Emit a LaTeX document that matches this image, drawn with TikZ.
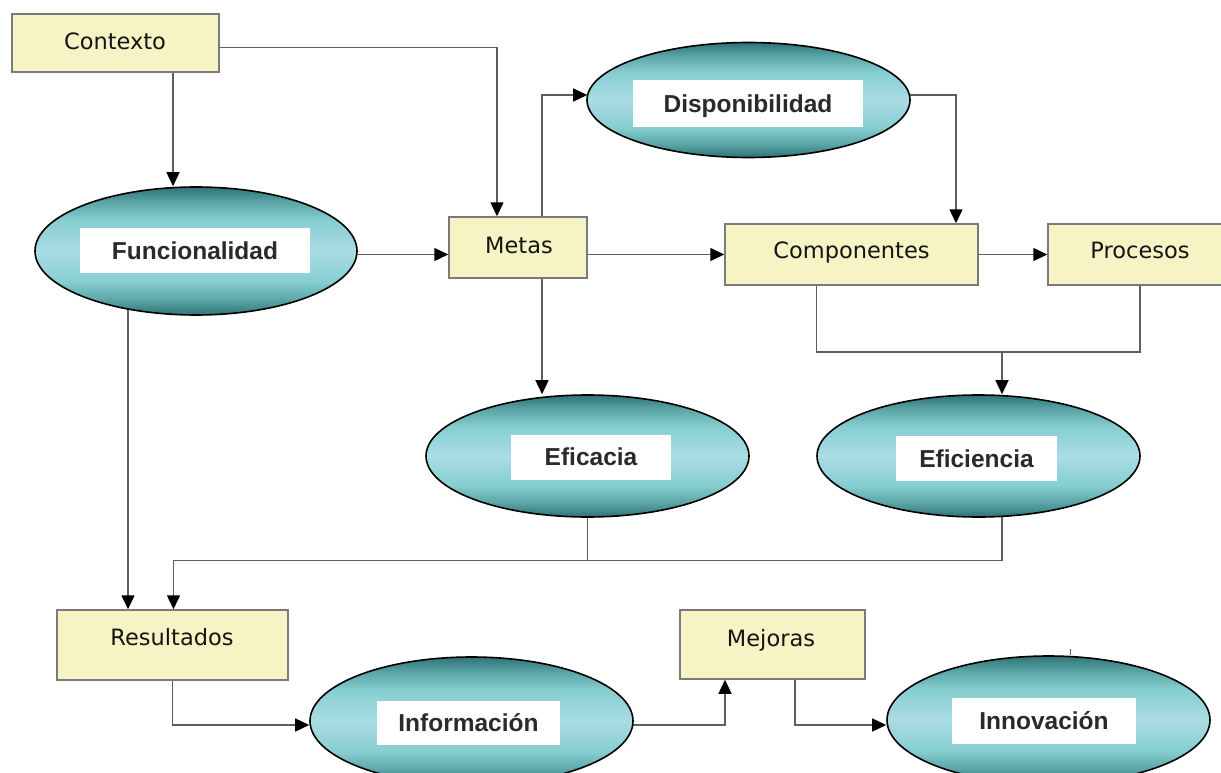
\documentclass[tikz,border=0pt]{standalone}
\usepackage{fontspec}
\setmainfont{DejaVu Sans}
\newfontfamily\ellfont{Liberation Sans}
\usetikzlibrary{arrows.meta,shapes.geometric,calc}
\pgfdeclarelayer{bg}
\pgfsetlayers{bg,main}
\definecolor{boxfill}{HTML}{F6F4C4}
\definecolor{boxline}{HTML}{7A7A7A}
\definecolor{linegray}{HTML}{5E5E5E}
\definecolor{txtdark}{HTML}{141414}
\definecolor{elltxt}{HTML}{2A2A2A}
\definecolor{tdark}{HTML}{2F7375}
\definecolor{tmid}{HTML}{5CA6A8}
\definecolor{tcyan}{HTML}{86CED0}
\definecolor{tlight}{HTML}{AADCE4}
\pgfdeclareverticalshading{ellshade}{100bp}{color(0bp)=(tdark); color(25bp)=(tdark); color(31bp)=(tmid); color(38bp)=(tcyan); color(50bp)=(tlight); color(62bp)=(tcyan); color(69bp)=(tmid); color(75bp)=(tdark); color(100bp)=(tdark)}
\tikzset{
  box/.style={draw=boxline, line width=1.5pt, fill=boxfill, inner sep=0pt},
  boxtext/.style={font=\fontsize{22.5}{26}\selectfont, text=txtdark, inner sep=0pt, text height=16pt, text depth=0pt},
  ell/.style={ellipse, draw=black, line width=1.6pt, shade, shading=ellshade, inner sep=0pt},
  elllabel/.style={fill=white, inner sep=0pt, font=\ellfont\bfseries\fontsize{24.5}{28}\selectfont, text=elltxt, text height=17.5pt, text depth=0pt},
  conn/.style={draw=linegray, line width=1.5pt},
  arr/.style={conn, -{Triangle[length=14pt,width=13pt,color=black]}}
}
\begin{document}
\begin{tikzpicture}[x=1pt,y=-1pt]
\useasboundingbox (0,0) rectangle (1221,773);
% boxes
\node[box, minimum width=207pt, minimum height=58pt] (ctx) at (115.5,43) {};
\node[boxtext] (ctxT) at (115,42) {Contexto};
\node[box, minimum width=138pt, minimum height=61pt] (metas) at (518,247.5) {};
\node[boxtext] (metasT) at (519,245) {Metas};
\node[box, minimum width=253pt, minimum height=61pt] (comp) at (851.5,254.5) {};
\node[boxtext] (compT) at (851.5,250) {Componentes};
\node[box, minimum width=178pt, minimum height=61pt] (proc) at (1137,254.5) {};
\node[boxtext] (procT) at (1140,250) {Procesos};
\node[box, minimum width=231pt, minimum height=70pt] (res) at (172.5,645) {};
\node[boxtext] (resT) at (172,637) {Resultados};
\node[box, minimum width=185pt, minimum height=69pt] (mej) at (772.5,644.5) {};
\node[boxtext] (mejT) at (771,638) {Mejoras};
% ellipses
\node[ell, minimum width=322pt, minimum height=128pt] (func) at (196,251) {};
\node[elllabel, minimum width=230pt, minimum height=45pt] (funcT) at (195,250.5) {Funcionalidad};
\node[ell, minimum width=323pt, minimum height=115pt] (disp) at (748.5,100) {};
\node[elllabel, minimum width=230pt, minimum height=47pt] (dispT) at (748,103.5) {Disponibilidad};
\node[ell, minimum width=323pt, minimum height=122pt] (efic) at (587.5,456) {};
\node[elllabel, minimum width=160pt, minimum height=45pt] (eficT) at (591,457) {Eficacia};
\node[ell, minimum width=323pt, minimum height=122pt] (effi) at (978.5,456) {};
\node[elllabel, minimum width=161pt, minimum height=45pt] (effiT) at (976.5,458.5) {Eficiencia};
\node[ell, minimum width=323pt, minimum height=128pt] (info) at (471.5,721) {};
\node[elllabel, minimum width=183pt, minimum height=44pt] (infoT) at (468.5,722.5) {Información};
\node[ell, minimum width=323pt, minimum height=128pt] (innov) at (1048.5,720) {};
\node[elllabel, minimum width=184pt, minimum height=46pt] (innovT) at (1044,721) {Innovación};
% helper coordinates
\coordinate (mS) at ($(metas.south)+(24,0)$);
\coordinate (cS) at ($(comp.south)+(-35,0)$);
\coordinate (pS) at ($(proc.south)+(3,0)$);
\coordinate (jE) at ($(effi.north)+(23.5,-42)$);
\coordinate (fR) at ($(res.north)+(-44.5,0)$);
\coordinate (jR) at ($(res.north)+(1,-49)$);
\coordinate (yB) at ($(info.west)+(0,4)$);
\coordinate (mB) at ($(mej.south)+(-47.5,0)$);
\coordinate (mB2) at ($(mej.south)+(22.5,0)$);
\coordinate (tk) at ($(innov.north)+(21.5,-6)$);
\coordinate (dW) at ($(disp.west)+(1,-5)$);
\coordinate (dE) at ($(disp.east)+(-1,-5)$);
\begin{pgfonlayer}{bg}
\fill[white] (0,0) rectangle (1221,773);
\draw[arr] ($(ctx.south)+(57.5,0)$) -- ($(func.north)+(-23,0)$);
\draw[arr] ($(ctx.east)+(0,4.5)$) -| ($(metas.north)+(-21,0)$);
\draw[arr] ($(metas.north)+(24,0)$) |- (dW);
\draw[arr] (dE) -| ($(comp.north)+(104.5,0)$);
\draw[arr] (func.east |- comp.west) -- (metas.west |- comp.west);
\draw[arr] (metas.east |- comp.west) -- (comp.west);
\draw[arr] (comp.east) -- (proc.west);
\draw[arr] (mS) -- (mS |- efic.north);
\draw[conn] (cS) |- (jE) -| (pS);
\draw[arr] (jE) -- (jE |- effi.north);
\draw[arr] (func.center -| fR) -- (fR);
\draw[conn] (efic.center) -- (efic.center |- jR);
\draw[arr] (effi.center -| jE) |- (jR) -- (jR |- res.north);
\draw[arr] (res.south) |- (yB);
\draw[arr] (info.center |- yB) -| (mB);
\draw[arr] (mB2) |- (innov.west |- yB);
\draw[conn, line width=1pt] (tk) -- (tk |- innov.north);
\end{pgfonlayer}
\end{tikzpicture}
\end{document}
